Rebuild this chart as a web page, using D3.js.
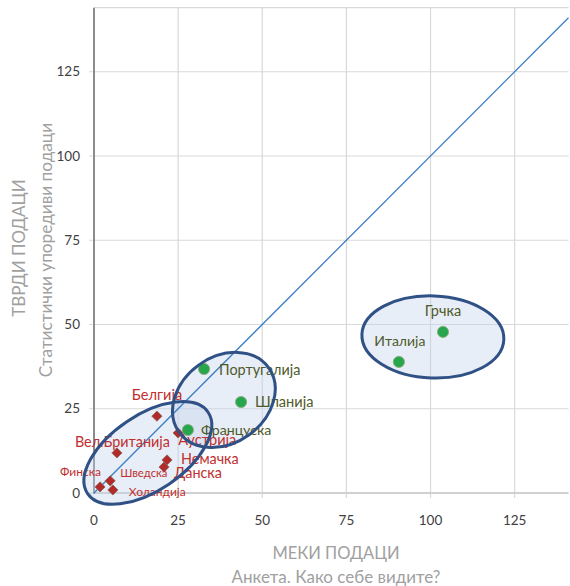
<!DOCTYPE html>
<html><head><meta charset="utf-8">
<script src="https://cdn.jsdelivr.net/npm/d3@7"></script>
<style>
body{margin:0;background:#fff}
svg{display:block}
text{font-family:Lato,"Open Sans",sans-serif}
</style>
</head><body>
<svg id="chart" width="570" height="586"></svg>
<script>
// ---- data ----
const redCountries = ["Белгија","Аустрија","Вел.Британија","Немачка","Данска","Шведска","Финска","Холандија"];
const redSoft = [18.7, 25.0, 6.8, 21.7, 20.8, 4.8, 1.8, 5.6];
const redHard = [22.8, 17.8, 11.9, 9.8, 7.7, 3.6, 1.8, 0.9];
const greenCountries = ["Португалија","Шпанија","Француска","Италија","Грчка"];
const greenSoft = [32.7, 43.7, 27.9, 90.6, 103.7];
const greenHard = [36.8, 27.0, 18.7, 38.9, 47.8];
const xTicks = [0, 25, 50, 75, 100, 125];
const yTicks = [0, 25, 50, 75, 100, 125];
const xTitle = "МЕКИ ПОДАЦИ";
const xSubtitle = "Анкета. Како себе видите?";
const yTitle = "ТВРДИ ПОДАЦИ";
const ySubtitle = "Статистички упоредиви подаци";
const diagonal = [0, 141];
// annotation ellipses, in data units: centre x, centre y, semi-axes, angle
const groupCx = [16.0, 38.6, 100.7];
const groupCy = [11.9, 27.6, 46.3];
const groupA = [21.6, 16.4, 21.1];
const groupB = [11.2, 12.8, 12.2];
const groupAngle = [-34, -36, 2];

// ---- layout (not data) ----
const redLabelLayout = [
  ["middle", 0, -16, 14.6], ["start", 0, 12, 14.6], ["start", -42, -6, 14.4], ["start", 14, 4, 14.4],
  ["start", 10, 11, 14.4], ["start", 10, -4, 11.3], ["start", -40, -11, 12], ["start", 16, 6, 12]
];
const greenLabelLayout = [
  ["start", 15, 6, 14.4], ["start", 14, 5, 14.6], ["start", 13, 5, 14.2], ["middle", 1, -16, 14], ["middle", 0, -16, 14.5]
];

const svg = d3.select("#chart");
const x = d3.scaleLinear().domain([0, 141]).range([94, 568.5]);
const y = d3.scaleLinear().domain([0, 144]).range([493, 7.7]);

// gridlines
const g = svg.append("g");
g.selectAll(".vg").data(xTicks.filter(d => d > 0)).join("line")
  .attr("x1", d => x(d)).attr("x2", d => x(d))
  .attr("y1", y(144)).attr("y2", y(0) + 5)
  .attr("stroke", "#d9d9d9").attr("stroke-width", 1.2);
g.selectAll(".hg").data(yTicks.filter(d => d > 0)).join("line")
  .attr("x1", x(0) - 5).attr("x2", x(141))
  .attr("y1", d => y(d)).attr("y2", d => y(d))
  .attr("stroke", "#d9d9d9").attr("stroke-width", 1.2);
g.append("line").attr("x1", x(0)).attr("x2", x(141)).attr("y1", y(144)).attr("y2", y(144))
  .attr("stroke", "#d9d9d9").attr("stroke-width", 1.2);
g.append("line").attr("x1", x(0)).attr("x2", x(141)).attr("y1", y(0)).attr("y2", y(0))
  .attr("stroke", "#d0d0d0").attr("stroke-width", 2);
g.append("line").attr("x1", x(0) - 5).attr("x2", x(0)).attr("y1", y(0)).attr("y2", y(0))
  .attr("stroke", "#d0d0d0").attr("stroke-width", 1.2);
g.append("line").attr("x1", x(0)).attr("x2", x(0)).attr("y1", y(144)).attr("y2", y(0) + 1)
  .attr("stroke", "#8c8c8c").attr("stroke-width", 2);

// tick labels
g.selectAll(".yl").data(yTicks).join("text")
  .attr("x", x(0) - 14).attr("y", d => y(d)).attr("dy", "0.35em")
  .attr("text-anchor", "end").attr("font-size", 13.5).attr("fill", "#404040").text(d => d);
g.selectAll(".xl").data(xTicks).join("text")
  .attr("x", d => x(d)).attr("y", y(0) + 27).attr("dy", "0.35em")
  .attr("text-anchor", "middle").attr("font-size", 13.5).attr("fill", "#404040").text(d => d);

// axis titles
svg.append("text").attr("x", 336).attr("y", 553).attr("dy", "0.35em").attr("text-anchor", "middle")
  .attr("font-size", 16.5).attr("fill", "#a0a0a0").text(xTitle);
svg.append("text").attr("x", 336).attr("y", 577).attr("dy", "0.35em").attr("text-anchor", "middle")
  .attr("font-size", 17).attr("fill", "#a0a0a0").text(xSubtitle);
svg.append("text").attr("transform", "translate(19,248) rotate(-90)").attr("dy", "0.35em")
  .attr("text-anchor", "middle").attr("font-size", 17).attr("fill", "#a0a0a0").text(yTitle);
svg.append("text").attr("transform", "translate(46,250) rotate(-90)").attr("dy", "0.35em")
  .attr("text-anchor", "middle").attr("font-size", 17.2).attr("fill", "#a0a0a0").text(ySubtitle);

// annotation ellipse fills (behind marks)
const ell = groupCx.map((c, i) => ({cx: c, cy: groupCy[i], a: groupA[i], b: groupB[i], ang: groupAngle[i]}));
const ellTransform = d => `translate(${x(d.cx)},${y(d.cy)}) rotate(${d.ang})`;
svg.selectAll(".ef").data(ell).join("ellipse")
  .attr("transform", ellTransform)
  .attr("rx", d => x(d.a) - x(0)).attr("ry", d => x(d.b) - x(0))
  .attr("fill", "#c3d3ea").attr("fill-opacity", 0.38).attr("stroke", "none");

// diagonal
svg.append("line").attr("x1", x(diagonal[0])).attr("y1", y(diagonal[0]))
  .attr("x2", x(diagonal[1])).attr("y2", y(diagonal[1]))
  .attr("stroke", "#3b7dc4").attr("stroke-width", 1.3);

// points
const greenData = greenCountries.map((c, i) => ({name: c, sx: greenSoft[i], hy: greenHard[i], lay: greenLabelLayout[i]}));
const redData = redCountries.map((c, i) => ({name: c, sx: redSoft[i], hy: redHard[i], lay: redLabelLayout[i]}));

svg.selectAll(".gp").data(greenData).join("circle")
  .attr("cx", d => x(d.sx)).attr("cy", d => y(d.hy)).attr("r", 5.6)
  .attr("fill", "#28a64e").attr("stroke", "#8fa87a").attr("stroke-width", 0.8);
const diamond = d3.symbol(d3.symbolSquare, 52);
svg.selectAll(".rp").data(redData).join("path")
  .attr("d", diamond)
  .attr("transform", d => `translate(${x(d.sx)},${y(d.hy)}) rotate(45)`)
  .attr("fill", "#b32a2a").attr("stroke", "#8a6a5a").attr("stroke-width", 0.8);

// labels
svg.selectAll(".gl").data(greenData).join("text")
  .attr("x", d => x(d.sx) + d.lay[1]).attr("y", d => y(d.hy) + d.lay[2])
  .attr("text-anchor", d => d.lay[0]).attr("font-size", d => d.lay[3])
  .attr("fill", "#4f5a2a").text(d => d.name);
svg.selectAll(".rl").data(redData).join("text")
  .attr("x", d => x(d.sx) + d.lay[1]).attr("y", d => y(d.hy) + d.lay[2])
  .attr("text-anchor", d => d.lay[0]).attr("font-size", d => d.lay[3])
  .attr("fill", "#c0302f").text(d => d.name);

// annotation ellipse outlines (on top)
svg.selectAll(".es").data(ell).join("ellipse")
  .attr("transform", ellTransform)
  .attr("rx", d => x(d.a) - x(0)).attr("ry", d => x(d.b) - x(0))
  .attr("fill", "none").attr("stroke", "#2f5186").attr("stroke-width", 3);
</script>
</body></html>
